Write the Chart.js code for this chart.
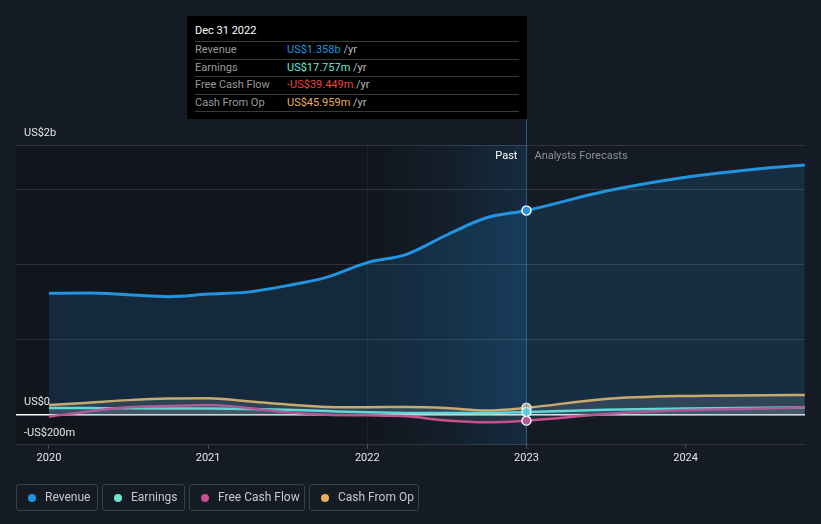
<!DOCTYPE html>
<html>
<head>
<meta charset="utf-8">
<script src="https://cdn.jsdelivr.net/npm/chart.js@4.4.0/dist/chart.umd.min.js"></script>
<style>
  body { margin: 0; background: #151b24; font-family: Roboto, sans-serif; }
  #wrap { position: relative; width: 821px; height: 524px; }
  #wrap canvas { position: absolute; left: 0; top: 0; }
  #tip { position: absolute; left: 187px; top: 16px; width: 340px; height: 103px; background: #000;
         padding: 0 8px; box-sizing: border-box; font-size: 11px; }
  #tip .t { color: #fff; line-height: 14px; padding: 8px 0 3px 0; border-bottom: 1px solid #3a3a3a; }
  #tip .r { color: #999; line-height: 16.5px; border-bottom: 1px solid #3a3a3a; white-space: nowrap; }
  #tip .r span.k { display: inline-block; width: 92px; }
  #tip .r span.u { color: #bbb; }
  .lg { position: absolute; top: 484px; height: 27px; box-sizing: border-box; border: 1px solid #3a4049;
        border-radius: 3px; font-size: 12px; color: #c8c8c8; line-height: 25px; }
  .lg i { position: absolute; left: 11px; top: 9px; width: 8px; height: 8px; border-radius: 50%; }
  .lg span { position: absolute; left: 28px; }
</style>
</head>
<body>
<div id="wrap">
  <canvas id="chart"></canvas>
  <div id="tip">
    <div class="t">Dec 31 2022</div>
    <div class="r"><span class="k">Revenue</span><span style="color:#2394df">US$1.358b</span> <span class="u">/yr</span></div>
    <div class="r"><span class="k">Earnings</span><span style="color:#6ce5d3">US$17.757m</span> <span class="u">/yr</span></div>
    <div class="r"><span class="k">Free Cash Flow</span><span style="color:#e8453e">-US$39.449m</span> <span class="u">/yr</span></div>
    <div class="r"><span class="k">Cash From Op</span><span style="color:#e8ae5c">US$45.959m</span> <span class="u">/yr</span></div>
  </div>
  <div id="legend"></div>
</div>
<script>
// quarter ends (past) then analyst forecasts
const dates = ['2019-12-31', '2020-03-31', '2020-06-30', '2020-09-30', '2020-12-31',
  '2021-03-31', '2021-06-30', '2021-09-30', '2021-12-31', '2022-03-31', '2022-06-30',
  '2022-09-30', '2022-12-31', '2023-06-30', '2023-12-31', '2024-06-30', '2024-09-30'];
const lastPast = 12;

// US$ millions
const revenue = [807, 809, 798, 785, 802, 815, 858, 915, 1011, 1066, 1193, 1309, 1358, 1485, 1578, 1638, 1660];
const earnings = [45, 44, 43, 42, 41, 38, 33, 24, 16, 12, 11, 12, 17.757, 33, 42, 46, 48];
const freeCashFlow = [-13, 22, 49, 58, 64, 45, 16, 0, -4, -11, -38, -50, -39.449, 4, 31, 42, 49];
const cashFromOp = [64, 80, 97, 108, 110, 90, 68, 52, 50, 52, 45, 28, 45.959, 105, 125, 129, 131];

const seriesNames = ['Revenue', 'Earnings', 'Free Cash Flow', 'Cash From Op'];
const seriesColors = ['#2394df', '#6ce5d3', '#c8508e', '#e8ae5c'];

const yTicks = [-200, 0, 500, 1000, 1500, 1793];
const yLabels = { '-200': '-US$200m', '0': 'US$0', '1793': 'US$2b' };
const xTicks = [2020, 2021, 2022, 2023, 2024];

function toYear(s) {
  const d = new Date(s + 'T00:00:00Z');
  const y = d.getUTCFullYear();
  const a = Date.UTC(y, 0, 1), b = Date.UTC(y + 1, 0, 1);
  return y + (d.getTime() - a) / (b - a) + 1 / 365;
}
const pts = arr => dates.map((d, i) => ({ x: toYear(d), y: arr[i] }));

// html legend
const legendPos = [[16, 82], [102, 83], [189, 116], [309, 110]];
const lg = document.getElementById('legend');
seriesNames.forEach((n, i) => {
  const el = document.createElement('div');
  el.className = 'lg';
  el.style.left = legendPos[i][0] + 'px';
  el.style.width = legendPos[i][1] + 'px';
  el.innerHTML = '<i style="background:' + seriesColors[i] + '"></i><span>' + n + '</span>';
  lg.appendChild(el);
});

Chart.defaults.font.family = 'Roboto';
Chart.defaults.font.size = 11;

const bands = {
  id: 'bands',
  beforeDraw(chart) {
    const { ctx, chartArea: a, scales: { x } } = chart;
    const x22 = x.getPixelForValue(2022), x23 = x.getPixelForValue(2023);
    ctx.save();
    ctx.fillStyle = 'rgba(0,0,0,0.18)';
    ctx.fillRect(a.left, a.top, x22 - a.left, a.bottom - a.top);
    const g = ctx.createLinearGradient(x22, 0, x23, 0);
    g.addColorStop(0, 'rgba(0,0,0,0.14)');
    g.addColorStop(1, 'rgba(25,100,160,0.24)');
    ctx.fillStyle = g;
    ctx.fillRect(x22, a.top, x23 - x22, a.bottom - a.top);
    ctx.fillStyle = 'rgba(60,140,200,0.12)';
    ctx.fillRect(Math.round(x22), a.top, 1, a.bottom - a.top);
    ctx.restore();
  },
  afterDraw(chart) {
    const { ctx, chartArea: a, scales: { x } } = chart;
    const x23 = x.getPixelForValue(2023);
    ctx.save();
    ctx.fillStyle = 'rgba(60,140,200,0.55)';
    ctx.fillRect(Math.round(x23), a.top - 26, 1, a.bottom - a.top + 26);
    ctx.font = '11px Roboto';
    ctx.textBaseline = 'middle';
    ctx.textAlign = 'right';
    ctx.fillStyle = '#ffffff';
    ctx.fillText('Past', x23 - 9, a.top + 11);
    ctx.textAlign = 'left';
    ctx.fillStyle = '#8a9099';
    ctx.fillText('Analysts Forecasts', x23 + 8, a.top + 11);
    ctx.restore();
  }
};

const dot = c => (c.dataIndex === lastPast ? 4.5 : 0);

function lineSet(i, arr, fillColor, order) {
  return {
    label: seriesNames[i],
    data: pts(arr),
    borderColor: seriesColors[i],
    backgroundColor: fillColor,
    pointBackgroundColor: seriesColors[i],
    pointBorderColor: '#ffffff',
    pointBorderWidth: 1.5,
    pointRadius: dot,
    borderWidth: i === 0 ? 3 : 2.5,
    fill: 'origin',
    tension: 0.4,
    cubicInterpolationMode: 'monotone',
    order: order
  };
}

new Chart(document.getElementById('chart'), {
  type: 'line',
  data: {
    datasets: [
      lineSet(0, revenue, 'rgba(35,148,223,0.16)', 0),
      lineSet(1, earnings, 'rgba(160,160,160,0.12)', 2),
      lineSet(2, freeCashFlow, 'rgba(160,160,160,0.12)', 1),
      lineSet(3, cashFromOp, 'rgba(160,160,160,0.22)', 3)
    ]
  },
  options: {
    responsive: true,
    maintainAspectRatio: false,
    animation: false,
    events: [],
    layout: { padding: { top: 145, left: 0, right: 16, bottom: 56 } },
    plugins: { legend: { display: false }, tooltip: { enabled: false } },
    scales: {
      x: {
        type: 'linear',
        min: 2019.793,
        max: 2024.75,
        afterBuildTicks: s => { s.ticks = xTicks.map(v => ({ value: v })); },
        grid: { drawOnChartArea: false, drawTicks: true, tickLength: 4, color: '#4a4f57' },
        border: { display: false },
        ticks: { color: '#e6e6e6', padding: 3, maxRotation: 0, callback: v => String(v) }
      },
      y: {
        min: -200,
        max: 1793,
        afterBuildTicks: s => { s.ticks = yTicks.map(v => ({ value: v })); },
        grid: {
          drawTicks: false,
          color: c => (c.tick && c.tick.value === 0 ? '#ffffff' : 'rgba(255,255,255,0.13)'),
          lineWidth: c => (c.tick && c.tick.value === 0 ? 1.5 : 1)
        },
        border: { display: false },
        ticks: {
          mirror: true,
          padding: 8,
          labelOffset: -12,
          color: '#e6e6e6',
          callback: v => yLabels[String(v)] || ''
        }
      }
    }
  },
  plugins: [bands]
});
</script>
</body>
</html>
